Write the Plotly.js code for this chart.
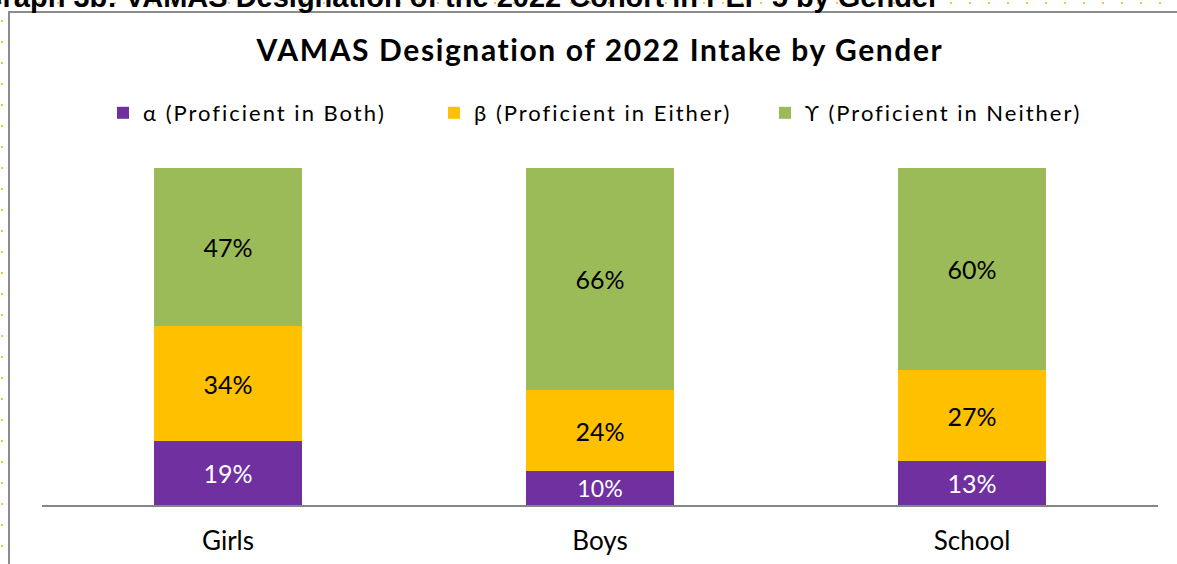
<!DOCTYPE html>
<html>
<head>
<meta charset="utf-8">
<script src="https://cdn.plot.ly/plotly-3.0.1.min.js"></script>
<style>
html,body{margin:0;padding:0;background:#fff;}
#chart{width:1177px;height:564px;}
.legendtext{letter-spacing:2px;}
.gtitle{letter-spacing:1.6px;}
</style>
</head>
<body>
<div id="chart"></div>
<script>
const categories = ["Girls", "Boys", "School"];
const alphaVals = [19, 10, 13];
const betaVals = [34, 24, 27];
const gammaVals = [47, 66, 60];
const seriesNames = ["α (Proficient in Both)", "β (Proficient in Either)", "ϒ (Proficient in Neither)"];
const chartTitle = "VAMAS Designation of 2022 Intake by Gender";
const captionText = "Graph 3b: VAMAS Designation of the 2022 Cohort in PEP 5 by Gender";

const FONT = "Lato, 'Open Sans', sans-serif";
const colors = ["#7030A0", "#FFC000", "#9BBB59"];
const textColors = ["#ffffff", "#000000", "#000000"];
const seriesVals = [alphaVals, betaVals, gammaVals];

const traces = seriesVals.map((vals, i) => ({
  type: "bar",
  name: seriesNames[i],
  x: categories,
  y: vals,
  text: vals.map(v => v + "%"),
  textposition: "inside",
  insidetextanchor: "middle",
  textangle: 0,
  textfont: {family: FONT, size: 25, color: textColors[i]},
  marker: {color: colors[i], line: {width: 0}},
  width: 0.4,
  hoverinfo: "skip"
}));

// plot area: x 42..1158, y 168..505
const L = 42, R = 19, T = 168, B = 59;
const PW = 1177 - L - R, PH = 564 - T - B;
const px = x => (x - L) / PW;
const py = y => (564 - B - y) / PH;

const layout = {
  width: 1177, height: 564,
  margin: {l: L, r: R, t: T, b: B, pad: 0},
  paper_bgcolor: "#ffffff",
  plot_bgcolor: "#ffffff",
  barmode: "stack",
  showlegend: true,
  title: {
    text: "<b>" + chartTitle + "</b>",
    font: {family: FONT, size: 30, color: "#000000"},
    x: px(600), xanchor: "center",
    y: 1 - 50/564, yanchor: "middle", xref: "paper", yref: "container"
  },
  legend: {
    orientation: "h",
    x: px(103), xanchor: "left",
    y: py(113), yanchor: "middle",
    font: {family: FONT, size: 22, color: "#000000"},
    traceorder: "normal",
    entrywidth: 286,
    itemwidth: 30,
    bgcolor: "rgba(0,0,0,0)"
  },
  xaxis: {
    showline: true, linecolor: "#868686", linewidth: 2,
    ticks: "outside", ticklen: 12, tickcolor: "rgba(0,0,0,0)",
    tickfont: {family: FONT, size: 26, color: "#000000"},
    showgrid: false, zeroline: false, fixedrange: true
  },
  yaxis: {
    range: [0, 100], visible: false, showgrid: false, zeroline: false, fixedrange: true
  },
  shapes: [
    // yellow dotted page border (top and left)
    {type: "line", xref: "paper", yref: "paper", x0: px(0), x1: px(1177), y0: py(3), y1: py(3),
     line: {color: "#F5C242", width: 2, dash: "2px,17px"}},
    {type: "line", xref: "paper", yref: "paper", x0: px(2), x1: px(2), y0: py(20), y1: py(564),
     line: {color: "#F5C242", width: 2, dash: "2px,19px"}},
    // grey chart frame
    {type: "line", xref: "paper", yref: "paper", x0: px(8), x1: px(1177), y0: py(12), y1: py(12),
     line: {color: "#8c8c8c", width: 2}},
    {type: "line", xref: "paper", yref: "paper", x0: px(9), x1: px(9), y0: py(11), y1: py(564),
     line: {color: "#8c8c8c", width: 2}}
  ],
  annotations: [
    {text: "<b>" + captionText + "</b>", xref: "paper", yref: "paper",
     x: px(-22), xanchor: "left", y: py(15), yanchor: "bottom", showarrow: false,
     font: {family: "'Liberation Sans', Arial, sans-serif", size: 29, color: "#000000"}}
  ]
};

Plotly.newPlot("chart", traces, layout, {displayModeBar: false, staticPlot: true});
</script>
</body>
</html>
